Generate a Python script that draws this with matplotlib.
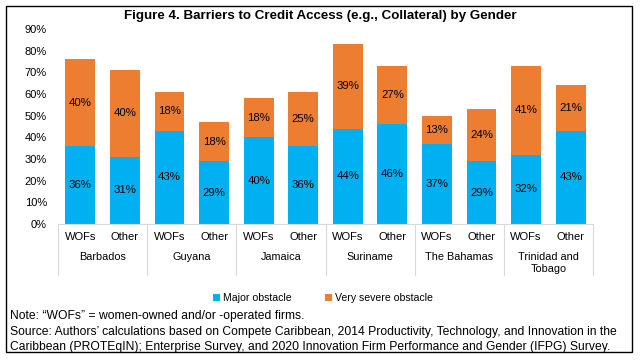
import matplotlib
matplotlib.use('Agg')
import matplotlib.pyplot as plt
from matplotlib.patches import Rectangle

plt.rcParams['font.family'] = ['Liberation Sans', 'DejaVu Sans']

countries = ['Barbados', 'Guyana', 'Jamaica', 'Suriname', 'The Bahamas', 'Trinidad and\nTobago']
firm_types = ['WOFs', 'Other']
major = [36, 31, 43, 29, 40, 36, 44, 46, 37, 29, 32, 43]
severe = [40, 40, 18, 18, 18, 25, 39, 27, 13, 24, 41, 21]

blue = '#00B0F0'
orange = '#ED7D31'
W, H = 640, 362

fig = plt.figure(figsize=(6.4, 3.62), dpi=100)
ax = fig.add_axes([58 / W, 1 - 224 / H, 535 / W, 195 / H])

x = [i + 0.5 for i in range(len(major))]
ax.bar(x, major, width=0.67, color=blue, label='Major obstacle')
ax.bar(x, severe, width=0.67, bottom=major, color=orange, label='Very severe obstacle')

for xi, m, s in zip(x, major, severe):
    ax.text(xi, m / 2, f'{m}%', ha='center', va='center', fontsize=8.2)
    ax.text(xi, m + s / 2, f'{s}%', ha='center', va='center', fontsize=8.2)

ax.set_xlim(0, len(major))
ax.set_ylim(0, 90)
ax.set_yticks(range(0, 91, 10))
ax.set_yticklabels([f'{v}%' for v in range(0, 91, 10)], fontsize=8)
ax.tick_params(axis='y', length=0, pad=8)
ax.set_xticks([])
for sp in ['top', 'right', 'left']:
    ax.spines[sp].set_visible(False)
ax.spines['bottom'].set_color('#D9D9D9')

# multi-level category axis
px = 1 / 195
for g in range(len(countries) + 1):
    ax.plot([2 * g, 2 * g], [0, -51 * px], transform=ax.get_xaxis_transform(),
            color='#D9D9D9', lw=0.8, clip_on=False)
for i, xi in enumerate(x):
    ax.text(xi, -13 * px, firm_types[i % 2], transform=ax.get_xaxis_transform(),
            ha='center', va='center', fontsize=8)
for g, c in enumerate(countries):
    ax.text(2 * g + 1, -27.5 * px, c, transform=ax.get_xaxis_transform(),
            ha='center', va='top', fontsize=7.8, linespacing=1.35)

ax.legend(loc='center', bbox_to_anchor=(323 / W, 1 - 298 / H), bbox_transform=fig.transFigure,
          ncol=2, frameon=False, fontsize=7.6, handlelength=0.6, handleheight=0.6,
          handletextpad=0.3, columnspacing=3.2)

fig.text(320 / W, 1 - 16 / H, 'Figure 4. Barriers to Credit Access (e.g., Collateral) by Gender',
         ha='center', va='center', fontsize=9.6, fontweight='bold')
fig.text(10 / W, 1 - 316 / H, 'Note: \u201cWOFs\u201d = women-owned and/or -operated firms.',
         ha='left', va='center', fontsize=8.7)
fig.text(10 / W, 1 - 332 / H, 'Source: Authors\u2019 calculations based on Compete Caribbean, 2014 Productivity, '
         'Technology, and Innovation in the', ha='left', va='center', fontsize=8.7)
fig.text(10 / W, 1 - 347 / H, 'Caribbean (PROTEqIN); Enterprise Survey, and 2020 Innovation Firm Performance '
         'and Gender (IFPG) Survey.', ha='left', va='center', fontsize=8.7)

fig.patches.append(Rectangle((6 / W, 1 - 352 / H), 626 / W, 346 / H, transform=fig.transFigure,
                             fill=False, edgecolor='black', lw=1))

fig.savefig('out.png', dpi=100)
